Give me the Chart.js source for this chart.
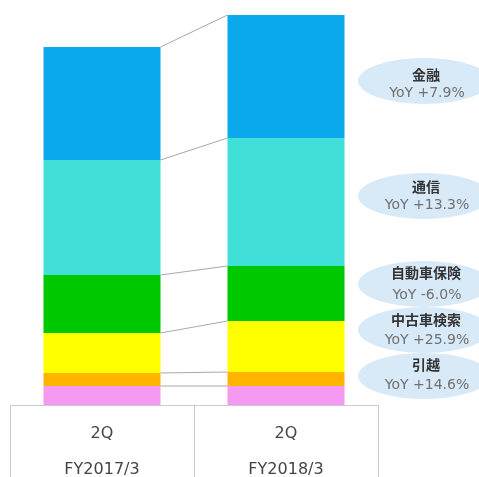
<!DOCTYPE html>
<html>
<head>
<meta charset="utf-8">
<script src="https://cdn.jsdelivr.net/npm/chart.js@4/dist/chart.umd.min.js"></script>
<style>
  body { margin: 0; background: #fff; }
</style>
</head>
<body>
<canvas id="chart" width="479" height="477"></canvas>
<script>
// quarters on the x axis
const quarters = [['2Q', 'FY2017/3'], ['2Q', 'FY2018/3']];

// segments, bottom to top
const otherVals   = [19, 19];
const movingVals  = [13, 14];   // 引越
const usedCarVals = [40, 51];   // 中古車検索
const insureVals  = [58, 55];   // 自動車保険
const telecomVals = [115, 128]; // 通信
const financeVals = [113, 123]; // 金融

// callouts on the right, top to bottom
const calloutNames = ['金融', '通信', '自動車保険', '中古車検索', '引越'];
const calloutYoY = ['YoY +7.9%', 'YoY +13.3%', 'YoY -6.0%', 'YoY +25.9%', 'YoY +14.6%'];

// thin lines joining the segment edges of both bars
const connectors = {
  id: 'connectors',
  afterDatasetsDraw(chart) {
    const ctx = chart.ctx;
    ctx.save();
    ctx.strokeStyle = '#a8a8a8';
    ctx.lineWidth = 1;
    chart.data.datasets.forEach((ds, i) => {
      const bars = chart.getDatasetMeta(i).data;
      const a = bars[0], b = bars[1];
      ctx.beginPath();
      ctx.moveTo(a.x + a.width / 2, a.y);
      ctx.lineTo(b.x - b.width / 2, b.y);
      ctx.stroke();
    });
    ctx.restore();
  }
};

// blue ovals with segment name and growth
const callouts = {
  id: 'callouts',
  afterDraw(chart) {
    const ctx = chart.ctx;
    const cx = 426;
    const rows = [[75, 93], [187, 205], [273, 295], [320, 340], [365, 385]];
    const ovals = [81, 196, 284, 330, 376];
    ctx.save();
    ctx.fillStyle = '#d8e9f7';
    ovals.forEach(y => {
      ctx.beginPath();
      ctx.ellipse(cx - 2, y, 66, 23, 0, 0, Math.PI * 2);
      ctx.fill();
    });
    ctx.textAlign = 'center';
    ctx.textBaseline = 'middle';
    calloutNames.forEach((name, i) => {
      ctx.fillStyle = '#333';
      ctx.font = 'bold 14px "Noto Sans CJK JP"';
      ctx.fillText(name, cx, rows[i][0]);
      ctx.fillStyle = '#707070';
      ctx.font = '14px "DejaVu Sans"';
      ctx.fillText(calloutYoY[i], cx + 1, rows[i][1]);
    });
    ctx.restore();
  }
};

function seg(label, data, color) {
  return { label: label, data: data, backgroundColor: color, borderWidth: 0 };
}

new Chart(document.getElementById('chart'), {
  type: 'bar',
  data: {
    labels: quarters,
    datasets: [
      seg('その他', otherVals, '#f59af2'),
      seg('引越', movingVals, '#ffb400'),
      seg('中古車検索', usedCarVals, '#ffff00'),
      seg('自動車保険', insureVals, '#00c800'),
      seg('通信', telecomVals, '#40e0d8'),
      seg('金融', financeVals, '#0aaaec')
    ]
  },
  options: {
    responsive: false,
    animation: false,
    barPercentage: 0.636,
    categoryPercentage: 1,
    layout: { padding: { left: 10, right: 101, top: 0, bottom: 0 } },
    plugins: { legend: { display: false }, tooltip: { enabled: false } },
    scales: {
      x: {
        stacked: true,
        grid: { offset: true, drawOnChartArea: false, drawTicks: true, tickLength: 72, color: '#cccccc' },
        border: { display: true, color: '#cccccc' },
        ticks: {
          color: '#444',
          padding: -62,
          font: { family: 'DejaVu Sans', size: 16, lineHeight: 2.3 }
        },
        afterFit(scale) { scale.height = 72; }
      },
      y: { stacked: true, display: false, min: 0, max: 405 }
    }
  },
  plugins: [connectors, callouts]
});
</script>
</body>
</html>
